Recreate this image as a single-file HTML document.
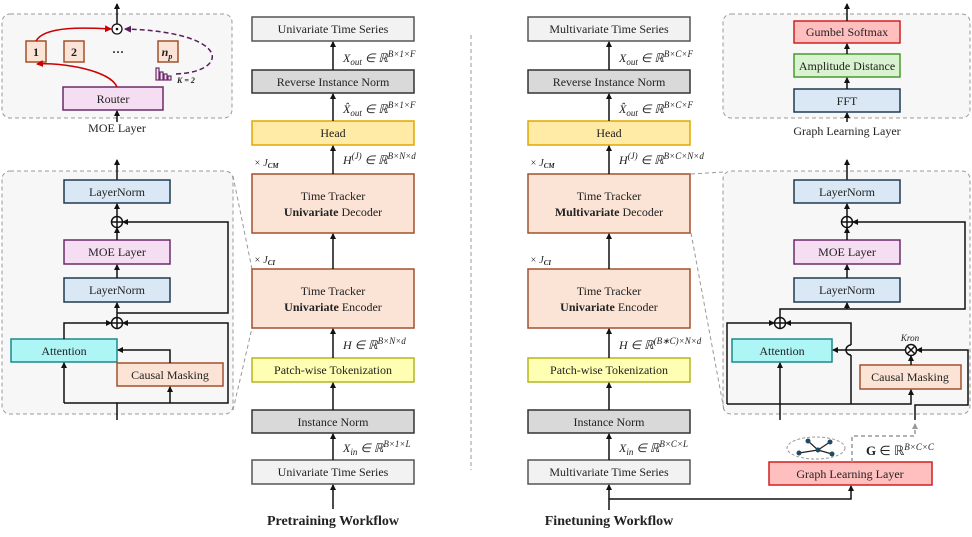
<!DOCTYPE html>
<html><head><meta charset="utf-8"><style>
html,body{margin:0;padding:0;background:#fff}
svg{display:block}
text{font-family:"Liberation Serif",serif;fill:#222}
.m{font-family:"Liberation Serif",serif;font-style:italic;font-size:12px}
</style></head><body>
<svg width="972" height="537" viewBox="0 0 972 537" xmlns="http://www.w3.org/2000/svg">
<defs>
<marker id="a" markerWidth="6" markerHeight="6" refX="5" refY="3" orient="auto" markerUnits="userSpaceOnUse"><path d="M0,0 L6,3 L0,6 z" fill="#111"/></marker>
<marker id="g" markerWidth="6" markerHeight="6" refX="5" refY="3" orient="auto" markerUnits="userSpaceOnUse"><path d="M0,0 L6,3 L0,6 z" fill="#999"/></marker>
<marker id="r" markerWidth="7" markerHeight="7" refX="6" refY="3.5" orient="auto" markerUnits="userSpaceOnUse"><path d="M0,0 L7,3.5 L0,7 z" fill="#c00"/></marker>
<marker id="p" markerWidth="7" markerHeight="7" refX="6" refY="3.5" orient="auto" markerUnits="userSpaceOnUse"><path d="M0,0 L7,3.5 L0,7 z" fill="#5a1f5a"/></marker>
</defs>

<g fill="#f7f7f7" stroke="#999" stroke-dasharray="4,3" stroke-width="1">
<rect x="2" y="14" width="230" height="104" rx="8"/>
<rect x="2" y="171" width="231" height="243" rx="8"/>
<rect x="723" y="14" width="247" height="104" rx="8"/>
<rect x="723" y="171" width="247" height="243" rx="8"/>
</g>
<g stroke="#999" stroke-dasharray="4,3" fill="none">
<line x1="233" y1="176" x2="252" y2="269"/>
<line x1="233" y1="410" x2="252" y2="328"/>
<line x1="691" y1="174" x2="724" y2="172"/>
<line x1="691" y1="233" x2="724" y2="410"/>
<line x1="471" y1="35" x2="471" y2="470"/>
</g>

<g stroke-width="1.5" font-size="12">
<rect x="252" y="17" width="162" height="24" fill="#f2f2f2" stroke="#555"/>
<rect x="252" y="70" width="162" height="23" fill="#d9d9d9" stroke="#333"/>
<rect x="252" y="121" width="162" height="24" fill="#ffeaa6" stroke="#e0a800"/>
<rect x="252" y="174" width="162" height="59" fill="#fbe3d6" stroke="#a0522d"/>
<rect x="252" y="269" width="162" height="59" fill="#fbe3d6" stroke="#a0522d"/>
<rect x="252" y="358" width="162" height="24" fill="#ffffb3" stroke="#b5b520"/>
<rect x="252" y="410" width="162" height="23" fill="#d9d9d9" stroke="#333"/>
<rect x="252" y="460" width="162" height="24" fill="#f2f2f2" stroke="#555"/>

<rect x="528" y="17" width="162" height="24" fill="#f2f2f2" stroke="#555"/>
<rect x="528" y="70" width="162" height="23" fill="#d9d9d9" stroke="#333"/>
<rect x="528" y="121" width="162" height="24" fill="#ffeaa6" stroke="#e0a800"/>
<rect x="528" y="174" width="162" height="59" fill="#fbe3d6" stroke="#a0522d"/>
<rect x="528" y="269" width="162" height="59" fill="#fbe3d6" stroke="#a0522d"/>
<rect x="528" y="358" width="162" height="24" fill="#ffffb3" stroke="#b5b520"/>
<rect x="528" y="410" width="162" height="23" fill="#d9d9d9" stroke="#333"/>
<rect x="528" y="460" width="162" height="24" fill="#f2f2f2" stroke="#555"/>
</g>
<g font-size="12" text-anchor="middle">
<text x="333" y="33">Univariate Time Series</text>
<text x="333" y="86">Reverse Instance Norm</text>
<text x="333" y="137">Head</text>
<text x="333" y="200">Time Tracker</text>
<text x="333" y="216"><tspan font-weight="bold">Univariate</tspan> Decoder</text>
<text x="333" y="295">Time Tracker</text>
<text x="333" y="311"><tspan font-weight="bold">Univariate</tspan> Encoder</text>
<text x="333" y="374">Patch-wise Tokenization</text>
<text x="333" y="426">Instance Norm</text>
<text x="333" y="476">Univariate Time Series</text>
<text x="609" y="33">Multivariate Time Series</text>
<text x="609" y="86">Reverse Instance Norm</text>
<text x="609" y="137">Head</text>
<text x="609" y="200">Time Tracker</text>
<text x="609" y="216"><tspan font-weight="bold">Multivariate</tspan> Decoder</text>
<text x="609" y="295">Time Tracker</text>
<text x="609" y="311"><tspan font-weight="bold">Univariate</tspan> Encoder</text>
<text x="609" y="374">Patch-wise Tokenization</text>
<text x="609" y="426">Instance Norm</text>
<text x="609" y="476">Multivariate Time Series</text>
<text x="333" y="525" font-size="14" font-weight="bold">Pretraining Workflow</text>
<text x="609" y="525" font-size="14" font-weight="bold">Finetuning Workflow</text>
</g>
<g stroke="#111" stroke-width="1.5" marker-end="url(#a)">
<line x1="333" y1="509" x2="333" y2="485"/>
<line x1="333" y1="460" x2="333" y2="434"/>
<line x1="333" y1="410" x2="333" y2="383"/>
<line x1="333" y1="358" x2="333" y2="329"/>
<line x1="333" y1="269" x2="333" y2="234"/>
<line x1="333" y1="174" x2="333" y2="146"/>
<line x1="333" y1="121" x2="333" y2="94"/>
<line x1="333" y1="70" x2="333" y2="42"/>
<line x1="609" y1="460" x2="609" y2="434"/>
<line x1="609" y1="410" x2="609" y2="383"/>
<line x1="609" y1="358" x2="609" y2="329"/>
<line x1="609" y1="269" x2="609" y2="234"/>
<line x1="609" y1="174" x2="609" y2="146"/>
<line x1="609" y1="121" x2="609" y2="94"/>
<line x1="609" y1="70" x2="609" y2="42"/>
<polyline fill="none" points="609,510 609,499 851,499 851,486"/>
</g>
<line x1="609" y1="499" x2="609" y2="485" stroke="#111" stroke-width="1.5" marker-end="url(#a)"/>
<g class="m">
<text x="343" y="62">X<tspan font-size="9" dy="3">out</tspan><tspan dy="-3"> ∈ ℝ</tspan><tspan font-size="9" dy="-5">B×1×F</tspan></text>
<text x="343" y="113">X̂<tspan font-size="9" dy="3">out</tspan><tspan dy="-3"> ∈ ℝ</tspan><tspan font-size="9" dy="-5">B×1×F</tspan></text>
<text x="343" y="164">H<tspan font-size="9" dy="-5">(J)</tspan><tspan dy="5"> ∈ ℝ</tspan><tspan font-size="9" dy="-5">B×N×d</tspan></text>
<text x="343" y="349">H ∈ ℝ<tspan font-size="9" dy="-5">B×N×d</tspan></text>
<text x="343" y="452">X<tspan font-size="9" dy="3">in</tspan><tspan dy="-3"> ∈ ℝ</tspan><tspan font-size="9" dy="-5">B×1×L</tspan></text>
<text x="619" y="62">X<tspan font-size="9" dy="3">out</tspan><tspan dy="-3"> ∈ ℝ</tspan><tspan font-size="9" dy="-5">B×C×F</tspan></text>
<text x="619" y="113">X̂<tspan font-size="9" dy="3">out</tspan><tspan dy="-3"> ∈ ℝ</tspan><tspan font-size="9" dy="-5">B×C×F</tspan></text>
<text x="619" y="164">H<tspan font-size="9" dy="-5">(J)</tspan><tspan dy="5"> ∈ ℝ</tspan><tspan font-size="9" dy="-5">B×C×N×d</tspan></text>
<text x="619" y="349">H ∈ ℝ<tspan font-size="9" dy="-5">(B∗C)×N×d</tspan></text>
<text x="619" y="452">X<tspan font-size="9" dy="3">in</tspan><tspan dy="-3"> ∈ ℝ</tspan><tspan font-size="9" dy="-5">B×C×L</tspan></text>
<text x="254" y="166" font-size="10">× J<tspan font-size="7" dy="2" font-weight="bold">CM</tspan></text>
<text x="254" y="263" font-size="10">× J<tspan font-size="7" dy="2" font-weight="bold">CI</tspan></text>
<text x="530" y="166" font-size="10">× J<tspan font-size="7" dy="2" font-weight="bold">CM</tspan></text>
<text x="530" y="263" font-size="10">× J<tspan font-size="7" dy="2" font-weight="bold">CI</tspan></text>
</g>

<rect x="63" y="87" width="100" height="23" fill="#f5ddf2" stroke="#6b2b6b" stroke-width="1.5"/>
<text x="113" y="103" font-size="12" text-anchor="middle">Router</text>
<g fill="#fbe3d6" stroke="#a0522d" stroke-width="1.5">
<rect x="26" y="41" width="20" height="21"/><rect x="64" y="41" width="20" height="21"/><rect x="158" y="41" width="20" height="21"/>
</g>
<g font-size="12" font-weight="bold" text-anchor="middle">
<text x="36" y="56">1</text><text x="74" y="56">2</text><text x="118" y="56">···</text>
<text x="167" y="56" font-style="italic">n<tspan font-size="8" dy="3">p</tspan></text>
</g>
<circle cx="117" cy="29" r="5" fill="#fff" stroke="#111" stroke-width="1.3"/><circle cx="117" cy="29" r="1.3" fill="#111"/>
<line x1="117" y1="24" x2="117" y2="4" stroke="#111" stroke-width="1.5" marker-end="url(#a)"/>
<line x1="117" y1="122" x2="117" y2="111" stroke="#111" stroke-width="1.5" marker-end="url(#a)"/>
<path d="M117,87 C110,70 60,62 37,64" fill="none" stroke="#c00" stroke-width="1.5" marker-end="url(#r)"/>
<path d="M36,41 C45,25 90,28 111,29" fill="none" stroke="#c00" stroke-width="1.5" marker-end="url(#r)"/>
<path d="M176,74 C230,72 232,32 125,29" fill="none" stroke="#5a1f5a" stroke-width="1.5" stroke-dasharray="5,3" marker-end="url(#p)"/>
<g fill="#f5ddf2" stroke="#6b2b6b" stroke-width="1.2">
<rect x="156" y="68" width="3" height="12"/><rect x="160" y="72" width="3" height="8"/><rect x="164" y="74" width="3" height="6"/><rect x="168" y="76" width="3" height="4"/>
</g>
<text x="177" y="83" font-size="8" font-weight="bold" font-style="italic">K = 2</text>
<text x="117" y="132" font-size="12" text-anchor="middle">MOE Layer</text>

<rect x="794" y="21" width="106" height="22" fill="#ffbfbf" stroke="#d02020" stroke-width="1.5"/>
<rect x="794" y="54" width="106" height="23" fill="#d9f2d0" stroke="#4a9a30" stroke-width="1.5"/>
<rect x="794" y="89" width="106" height="23" fill="#dae8f5" stroke="#1f3a50" stroke-width="1.5"/>
<g font-size="12" text-anchor="middle">
<text x="847" y="36">Gumbel Softmax</text><text x="847" y="70">Amplitude Distance</text><text x="847" y="105">FFT</text>
<text x="847" y="135">Graph Learning Layer</text>
</g>
<g stroke="#111" stroke-width="1.5" marker-end="url(#a)">
<line x1="847" y1="21" x2="847" y2="4"/><line x1="847" y1="54" x2="847" y2="44"/><line x1="847" y1="89" x2="847" y2="78"/><line x1="847" y1="122" x2="847" y2="113"/>
<line x1="847" y1="180" x2="847" y2="160"/><line x1="117" y1="180" x2="117" y2="160"/>
</g>

<g stroke-width="1.5">
<rect x="64" y="180" width="106" height="23" fill="#dae8f5" stroke="#1f3a50"/>
<rect x="64" y="240" width="106" height="24" fill="#f5ddf2" stroke="#6b2b6b"/>
<rect x="64" y="278" width="106" height="24" fill="#dae8f5" stroke="#1f3a50"/>
<rect x="11" y="339" width="106" height="23" fill="#aef5f5" stroke="#1a8a8a"/>
<rect x="117" y="363" width="106" height="23" fill="#fbe3d6" stroke="#a0522d"/>
</g>
<g font-size="12" text-anchor="middle">
<text x="117" y="196">LayerNorm</text><text x="117" y="256">MOE Layer</text><text x="117" y="294">LayerNorm</text>
<text x="64" y="355">Attention</text><text x="170" y="379">Causal Masking</text>
</g>
<g stroke="#111" stroke-width="1.5" fill="none">
<circle cx="117" cy="222" r="5.5" fill="#fff"/><path d="M111.5,222h11M117,216.5v11"/>
<circle cx="117" cy="323" r="5.5" fill="#fff"/><path d="M111.5,323h11M117,317.5v11"/>
<polyline points="117,313 228,313 228,222 123,222" marker-end="url(#a)"/>
<polyline points="117,420 117,403 228,403 228,323 123,323" marker-end="url(#a)"/>
<polyline points="64,339 64,323 111,323" marker-end="url(#a)"/>
<polyline points="64,403 64,363" marker-end="url(#a)"/>
<polyline points="170,403 170,387" marker-end="url(#a)"/>
<polyline points="170,363 170,350 118,350" marker-end="url(#a)"/>
<line x1="64" y1="403" x2="117" y2="403"/>
<line x1="117" y1="317" x2="117" y2="303" marker-end="url(#a)"/>
<line x1="117" y1="278" x2="117" y2="265" marker-end="url(#a)"/>
<line x1="117" y1="240" x2="117" y2="228" marker-end="url(#a)"/>
<line x1="117" y1="216" x2="117" y2="204" marker-end="url(#a)"/>
</g>

<g stroke-width="1.5">
<rect x="794" y="180" width="106" height="23" fill="#dae8f5" stroke="#1f3a50"/>
<rect x="794" y="240" width="106" height="24" fill="#f5ddf2" stroke="#6b2b6b"/>
<rect x="794" y="278" width="106" height="24" fill="#dae8f5" stroke="#1f3a50"/>
<rect x="732" y="339" width="100" height="23" fill="#aef5f5" stroke="#1a8a8a"/>
<rect x="860" y="365" width="101" height="24" fill="#fbe3d6" stroke="#a0522d"/>
</g>
<g font-size="12" text-anchor="middle">
<text x="847" y="196">LayerNorm</text><text x="847" y="256">MOE Layer</text><text x="847" y="294">LayerNorm</text>
<text x="782" y="355">Attention</text><text x="910" y="381">Causal Masking</text>
</g>
<text x="910" y="341" font-size="9" font-style="italic" text-anchor="middle">Kron</text>
<g stroke="#111" stroke-width="1.5" fill="none">
<circle cx="847" cy="222" r="5.5" fill="#fff"/><path d="M841.5,222h11M847,216.5v11"/>
<circle cx="780" cy="323" r="5.5" fill="#fff"/><path d="M774.5,323h11M780,317.5v11"/>
<circle cx="911" cy="350" r="5.5" fill="#fff"/><path d="M907,346l8,8M915,346l-8,8"/>
<polyline points="847,309 965,309 965,222 853,222" marker-end="url(#a)"/>
<polyline points="780,317 780,309 847,309"/>
<line x1="847" y1="309" x2="847" y2="303" marker-end="url(#a)"/>
<polyline points="727,404 727,323 774,323" marker-end="url(#a)"/>
<polyline points="851,345 851,323 786,323" marker-end="url(#a)"/>
<polyline points="727,404 911,404 911,390" marker-end="url(#a)"/>
<line x1="851" y1="404" x2="851" y2="355"/>
<path d="M851,355 a5,5 0 0 1 0,-10"/>
<polyline points="905,350 833,350" marker-end="url(#a)"/>
<line x1="911" y1="365" x2="911" y2="356" marker-end="url(#a)"/>
<polyline points="915,420 915,405 968,405 968,350 917,350" marker-end="url(#a)"/>
<line x1="780" y1="420" x2="780" y2="363" marker-end="url(#a)"/>
<line x1="847" y1="278" x2="847" y2="265" marker-end="url(#a)"/>
<line x1="847" y1="240" x2="847" y2="228" marker-end="url(#a)"/>
<line x1="847" y1="216" x2="847" y2="204" marker-end="url(#a)"/>
</g>

<rect x="769" y="462" width="163" height="23" fill="#ffbfbf" stroke="#d02020" stroke-width="1.5"/>
<text x="850" y="478" font-size="12" text-anchor="middle">Graph Learning Layer</text>
<ellipse cx="816" cy="448" rx="29" ry="11" fill="none" stroke="#999" stroke-dasharray="3,2"/>
<g stroke="#222" stroke-width="1.2"><line x1="799" y1="453" x2="818" y2="450"/><line x1="818" y1="450" x2="832" y2="454"/><line x1="818" y1="450" x2="808" y2="441"/><line x1="818" y1="450" x2="830" y2="442"/></g>
<g fill="#1f4a5f"><circle cx="799" cy="453" r="2.5"/><circle cx="818" cy="450" r="2.5"/><circle cx="832" cy="454" r="2.5"/><circle cx="808" cy="441" r="2.5"/><circle cx="830" cy="442" r="2.5"/></g>
<polyline points="852,462 852,436 915,436 915,424" fill="none" stroke="#999" stroke-width="1.5" stroke-dasharray="4,3" marker-end="url(#g)"/>
<text x="866" y="455" font-size="13"><tspan font-weight="bold">G</tspan> ∈ ℝ<tspan font-size="9" dy="-5" font-style="italic">B×C×C</tspan></text>
</svg>
</body></html>
